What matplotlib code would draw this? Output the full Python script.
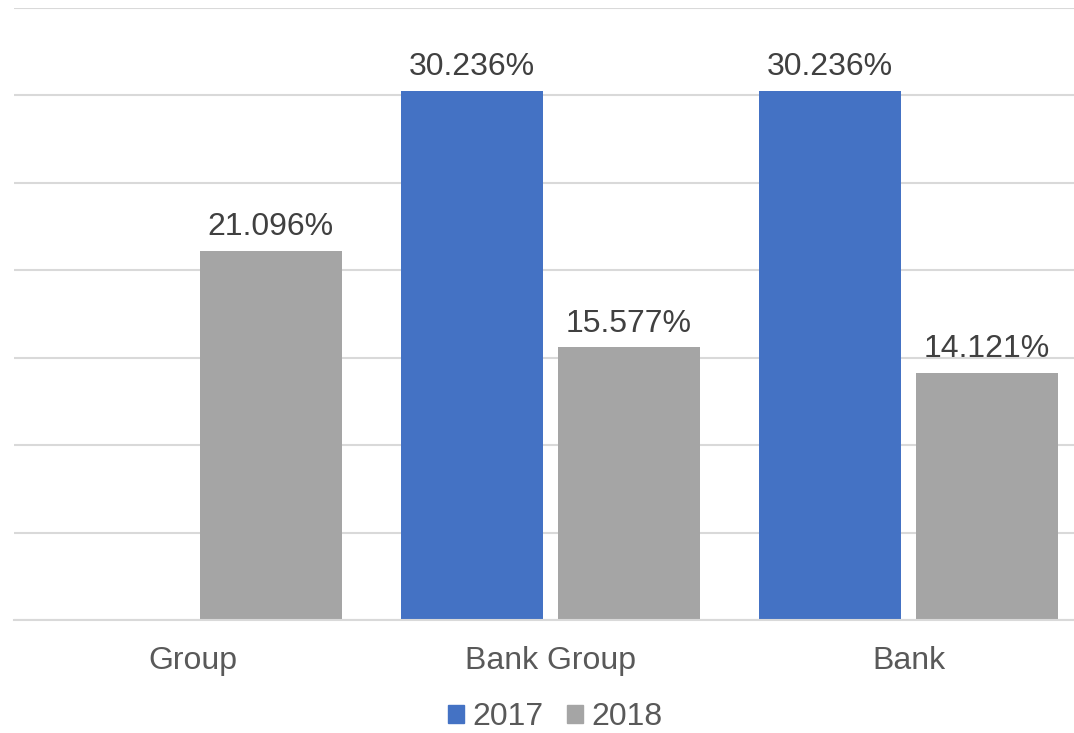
import matplotlib
matplotlib.use("Agg")
import matplotlib.pyplot as plt
import numpy as np
from matplotlib.patches import Patch

categories = ["Group", "Bank Group", "Bank"]
series_names = ["2017", "2018"]
values_2017 = [None, 30.236, 30.236]
values_2018 = [21.096, 15.577, 14.121]
colors = ["#4472C4", "#A5A5A5"]

plt.rcParams['font.family'] = ['Liberation Sans', 'DejaVu Sans']

W, H = 1074, 733
fig = plt.figure(figsize=(W / 100, H / 100), dpi=100)
left_px, right_px, top_px, bot_px = 13.5, 1087.5, 7.5, 620
ax = fig.add_axes([left_px / W, 1 - bot_px / H, (right_px - left_px) / W, (bot_px - top_px) / H])

x = np.arange(len(categories))
bw = 0.397
off = 0.219
for vals, sign, col in [(values_2017, -1, colors[0]), (values_2018, 1, colors[1])]:
    for i, v in enumerate(vals):
        if v is None:
            continue
        ax.bar(x[i] + sign * off, v, width=bw, color=col, zorder=3)
        ax.text(x[i] + sign * off, v + 0.9, f"{v:.3f}%", ha="center", va="baseline",
                fontsize=23, color="#404040", zorder=4)

ax.set_xlim(-0.5, len(categories) - 0.5)
ax.set_ylim(0, 35)
ax.set_yticks(np.arange(0, 36, 5))
ax.yaxis.grid(True, color="#D9D9D9", linewidth=1.5, zorder=0)
ax.tick_params(axis="y", left=False, labelleft=False)
ax.tick_params(axis="x", bottom=False, labelsize=23, labelcolor="#595959", pad=15)
ax.set_xticks(x)
ax.set_xticklabels(categories)
for s in ["top", "right", "left"]:
    ax.spines[s].set_visible(False)
ax.spines["bottom"].set_color("#D9D9D9")
ax.spines["bottom"].set_linewidth(1.5)
ax.spines["bottom"].set_zorder(5)

handles = [Patch(color=c) for c in colors]
fig.legend(handles, series_names, loc="center", bbox_to_anchor=(555.5 / W, 1 - 717 / H),
           ncol=2, frameon=False, fontsize=23, labelcolor="#595959",
           handlelength=0.5, handleheight=0.5, handletextpad=0.25, columnspacing=0.75)

fig.savefig("out.png", dpi=100)
